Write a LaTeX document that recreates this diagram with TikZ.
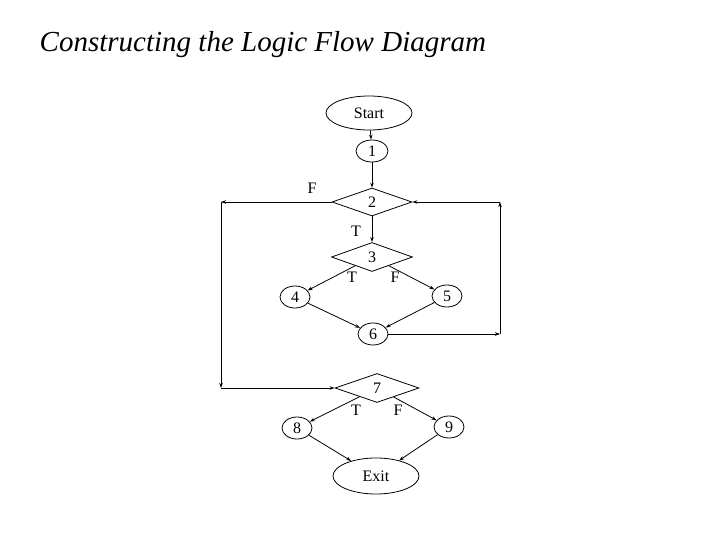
\documentclass[tikz,border=0pt]{standalone}
\usepackage{fontspec}
\setmainfont{Liberation Serif}
\usetikzlibrary{shapes.geometric,arrows.meta}
\begin{document}
\begin{tikzpicture}[x=1pt,y=-1pt,
  ell/.style={ellipse,draw,inner sep=0,font=\fontsize{16}{16}\selectfont},
  dia/.style={diamond,draw,inner sep=0,aspect=2.9,minimum width=80pt,minimum height=28pt,font=\fontsize{16}{16}\selectfont},
  lab/.style={font=\fontsize{16}{16}\selectfont,inner sep=0},
  arr/.style={-{Stealth[length=5pt,width=3.5pt]},line width=0.8pt},
  every node/.append style={line width=0.8pt}]
\useasboundingbox (0,0) rectangle (720,540);
\node[anchor=west,font=\fontsize{29}{29}\selectfont\itshape] (title) at (36,45) {Constructing the Logic Flow Diagram};
\node[ell,minimum width=86pt,minimum height=34pt] (st) at (369,113) {Start};
\node[ell,minimum width=32pt,minimum height=22pt] (n1) at (372,151) {1};
\node[dia] (n2) at (372,202) {2};
\node[dia,minimum width=81pt,minimum height=29pt] (n3) at (372,257) {3};
\node[ell,minimum width=30pt,minimum height=22pt] (n4) at (295,297) {4};
\node[ell,minimum width=30pt,minimum height=22pt] (n5) at (447,296) {5};
\node[ell,minimum width=30pt,minimum height=22pt] (n6) at (373,334) {6};
\node[dia,minimum width=84pt,minimum height=29pt] (n7) at (377,388) {7};
\node[ell,minimum width=30pt,minimum height=22pt] (n8) at (297,428) {8};
\node[ell,minimum width=30pt,minimum height=22pt] (n9) at (449,427) {9};
\node[ell,minimum width=86pt,minimum height=36pt] (ex) at (376,476) {Exit};
\coordinate (l1) at (221,202);
\coordinate (l2) at (221,388);
\coordinate (r1) at (500,334);
\coordinate (r2) at (500,202);
\draw[arr] (st) -- (n1);
\draw[arr] (n1) -- (n2);
\draw[arr] (n2.west) -- (l1);
\draw[arr] (l1) -- (l2);
\draw[arr] (l2) -- (n7.west);
\draw[arr] (n2) -- (n3);
\draw[arr] (n3) -- (n4);
\draw[arr] (n3) -- (n5);
\draw[arr] (n4) -- (n6);
\draw[arr] (n5) -- (n6);
\draw[arr] (n6) -- (r1);
\draw[arr] (r1) -- (r2);
\draw[arr] (r2) -- (n2.east);
\draw[arr] (n7) -- (n8);
\draw[arr] (n7) -- (n9);
\draw[arr] (n8) -- (ex);
\draw[arr] (n9) -- (ex);
\node[lab] (f2) at (312,188) {F};
\node[lab] (t2) at (356,231) {T};
\node[lab] (t3) at (352,277) {T};
\node[lab] (f3) at (395,277) {F};
\node[lab] (t7) at (356,410) {T};
\node[lab] (f7) at (398,410) {F};
\end{tikzpicture}
\end{document}
